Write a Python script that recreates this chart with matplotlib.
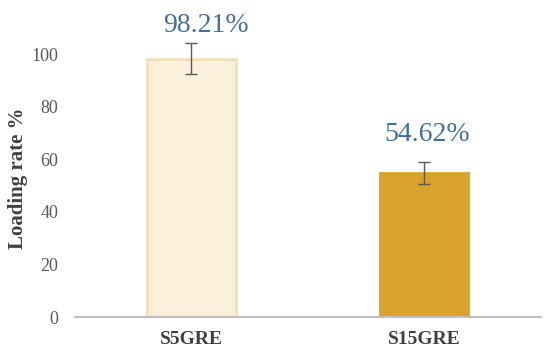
import numpy as np
import matplotlib.pyplot as plt

samples = ["S5GRE", "S15GRE"]
loading = [98.21, 54.62]
errors = [6.0, 4.2]
labels = ["98.21%", "54.62%"]
colors = ["#FAF0DC", "#D9A22A"]
edges = ["#F4E0B6", "#D9A22A"]

plt.rcParams['font.family'] = ['Liberation Serif', 'DejaVu Serif']

fig = plt.figure(figsize=(5.5, 3.6), dpi=100)
ax = fig.add_axes([0.1364, 0.1194, 0.847, 0.8767])

x = np.arange(len(samples))
ax.bar(x, loading, width=0.378, color=colors, edgecolor=edges, linewidth=2)
ax.errorbar(x, loading, yerr=errors, fmt='none', ecolor="#595959",
            elinewidth=1, capsize=4, capthick=1)

# label placement: gap above the error bar, per bar
gaps = [4.2, 8.1]
offsets = [0.06, 0.01]
for xi, v, e, g, lab, off in zip(x, loading, errors, gaps, labels, offsets):
    ax.text(xi + off, v + e + g, lab, ha='center', va='baseline', fontsize=20,
            color="#41719C")

ax.set_xlim(-0.5, 1.5)
ax.set_ylim(0, 120)
ax.set_yticks([0, 20, 40, 60, 80, 100])
ax.set_xticks(x)
ax.set_xticklabels(samples, fontsize=14, fontweight='bold', color="#404040")
ax.tick_params(axis='y', length=0, labelsize=13, labelcolor="#595959", pad=12)
ax.tick_params(axis='x', length=0, pad=10)

for side in ['top', 'right', 'left']:
    ax.spines[side].set_visible(False)
ax.spines['bottom'].set_color("#BFBFBF")
ax.spines['bottom'].set_linewidth(1.5)

ax.set_ylabel("Loading rate %", fontsize=15, fontweight='bold', color="#404040")
ax.yaxis.set_label_coords(-0.1, 0.44)

plt.savefig("out.png", dpi=100)
